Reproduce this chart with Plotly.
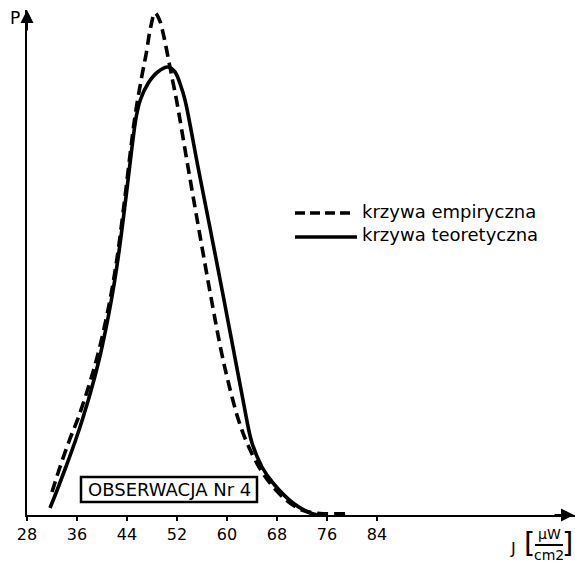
import plotly.graph_objects as go

# ---- data ----
emp_J = [32.00, 33.28, 34.80, 36.24, 38.03, 39.52, 41.28, 42.41, 43.62, 44.58,
         45.31, 46.35, 47.09, 47.79, 48.48, 49.20, 49.84, 50.56, 51.28, 51.92,
         53.76, 55.60, 57.52, 59.04, 60.24, 61.84, 63.20, 65.12, 66.88, 69.44,
         72.00, 74.88, 79.68]
emp_P = [23, 48, 75, 98, 132, 165, 215, 257, 315, 365,
         400, 438, 462, 488, 502, 495, 480, 458, 435, 415,
         348, 282, 215, 165, 132, 95, 72, 48, 32, 15,
         5, 1.5, 1.5]

teo_J = [31.68, 32.83, 34.22, 35.78, 36.99, 38.58, 39.90, 41.50, 42.53, 43.78,
         44.74, 45.47, 46.13, 47.41, 48.91, 50.56, 51.68, 52.56, 53.28, 55.36,
         57.44, 59.52, 61.04, 62.56, 64.00, 65.60, 67.36, 70.56, 73.28, 74.56]
teo_P = [7, 25, 48, 75, 98, 132, 165, 215, 255, 315,
         365, 398, 415, 432, 443, 448, 443, 430, 415, 348,
         282, 215, 165, 115, 72, 48, 32, 12, 2, 0]

tick_vals = [28, 36, 44, 52, 60, 68, 76, 84]
tick_text = [str(v) for v in tick_vals]

series_names = ["krzywa empiryczna", "krzywa teoretyczna"]
box_label = "OBSERWACJA Nr 4"

# ---- geometry helpers (pixel -> paper) ----
W, H = 575, 562
L, R, T, B = 27, 0, 10, 47
PXU = 6.25
X0 = 28
PW, PH = W - L - R, H - T - B
XMAX = X0 + PW / PXU
YMAX = PH


def px(x):
    return (x - L) / PW


def py(y):
    return ((H - B) - y) / PH


FONT = "DejaVu Sans"
fig = go.Figure()

fig.add_trace(go.Scatter(x=emp_J, y=emp_P, mode="lines", name=series_names[0],
                         line=dict(color="black", width=3.6, dash="11px,6px",
                                   shape="spline", smoothing=1.0),
                         showlegend=False))
fig.add_trace(go.Scatter(x=teo_J, y=teo_P, mode="lines", name=series_names[1],
                         line=dict(color="black", width=3.6,
                                   shape="spline", smoothing=1.0),
                         showlegend=False))

shapes = []
annotations = []


def label(x, y, text, size, xanchor="center"):
    annotations.append(dict(x=px(x), y=py(y), xref="paper", yref="paper", text=text,
                            showarrow=False, xanchor=xanchor, yanchor="middle",
                            borderpad=0,
                            font=dict(family=FONT, size=size, color="black")))


# manual legend
shapes.append(dict(type="line", xref="paper", yref="paper", x0=px(295), x1=px(352),
                   y0=py(213), y1=py(213),
                   line=dict(color="black", width=3.5, dash="10px,5px")))
shapes.append(dict(type="line", xref="paper", yref="paper", x0=px(295), x1=px(357),
                   y0=py(237), y1=py(237),
                   line=dict(color="black", width=3.5)))
label(361, 211, series_names[0], 18, "left")
label(361, 235, series_names[1], 18, "left")

# observation box
shapes.append(dict(type="rect", xref="paper", yref="paper", x0=px(81), x1=px(257),
                   y0=py(502), y1=py(477), line=dict(color="black", width=2.5)))
label(169.5, 489.5, box_label, 18)

# axis arrows
annotations.append(dict(x=0, y=1, xref="paper", yref="paper", ax=0, ay=22,
                        axref="pixel", ayref="pixel", text="", showarrow=True,
                        arrowhead=2, arrowsize=1.3, arrowwidth=2, arrowcolor="black"))
annotations.append(dict(x=1, y=0, xref="paper", yref="paper", ax=-22, ay=0,
                        axref="pixel", ayref="pixel", text="", showarrow=True,
                        arrowhead=2, arrowsize=1.3, arrowwidth=2, arrowcolor="black"))

# axis labels
label(15, 18, "P", 17)
label(513, 548, "J", 16)
label(529, 543, "[", 29)
label(567, 543, "]", 29)
label(549, 534, "\u03bcW", 14)
label(549, 555, "cm2", 14)
shapes.append(dict(type="line", xref="paper", yref="paper", x0=px(535), x1=px(563),
                   y0=py(545), y1=py(545), line=dict(color="black", width=2)))

fig.update_layout(
    width=W, height=H,
    margin=dict(l=L, r=R, t=T, b=B, pad=0),
    paper_bgcolor="white", plot_bgcolor="white",
    showlegend=False,
    shapes=shapes, annotations=annotations,
    xaxis=dict(range=[X0, XMAX], tickmode="array", tickvals=tick_vals, ticktext=tick_text,
               ticks="outside", ticklen=4, tickwidth=1.5, tickcolor="black",
               showline=True, linecolor="black", linewidth=2,
               showgrid=False, zeroline=False,
               tickfont=dict(family=FONT, size=16, color="black")),
    yaxis=dict(range=[0, YMAX], showticklabels=False, ticks="",
               showline=True, linecolor="black", linewidth=2,
               showgrid=False, zeroline=False),
)

fig.write_html("out.html")
